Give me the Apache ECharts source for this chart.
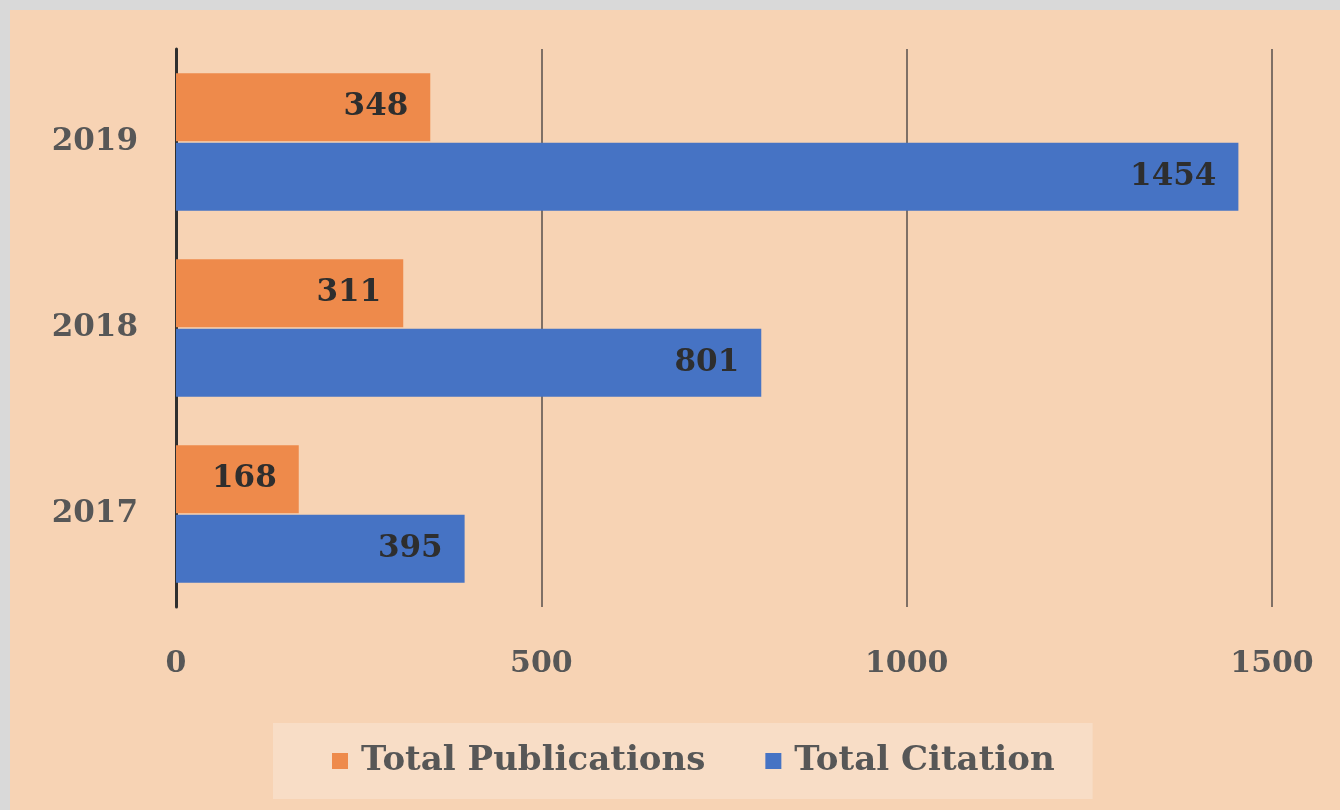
<!DOCTYPE html>
<html>
<head>
<meta charset="utf-8">
<script src="https://cdn.jsdelivr.net/npm/echarts@6/dist/echarts.min.js"></script>
<style>
  html, body { margin: 0; padding: 0; background: #d9d9d9; }
  #chart { position: absolute; left: 10px; top: 10px; width: 1330px; height: 800px; }
</style>
</head>
<body>
<div id="chart"></div>
<script>
// data
const years = ['2017', '2018', '2019'];
const publications = [168, 311, 348];
const citations = [395, 801, 1454];
const xTicks = [0, 500, 1000, 1500];

const serif = '"DejaVu Serif", "Liberation Serif", serif';

const chart = echarts.init(document.getElementById('chart'));

const barLabel = {
  show: true,
  position: 'insideRight',
  distance: 22,
  color: '#2e2e2e',
  fontFamily: serif,
  fontWeight: 'bold',
  fontSize: 31
};

const option = {
  backgroundColor: '#F7D3B4',
  animation: false,
  grid: { left: 166, top: 39, width: 1096, height: 558 },
  legend: {
    data: ['Total Publications', 'Total Citation'],
    left: 263,
    top: 713,
    padding: [21, 38, 21, 59],
    backgroundColor: '#F8DDC6',
    itemWidth: 16,
    itemHeight: 16,
    itemGap: 60,
    icon: 'rect',
    textStyle: { color: '#575757', fontFamily: serif, fontWeight: 'bold', fontSize: 34, padding: [0, 0, 0, 8] }
  },
  xAxis: {
    type: 'value',
    min: xTicks[0],
    max: xTicks[xTicks.length - 1],
    interval: 500,
    axisLine: { show: false },
    axisTick: { show: false },
    splitLine: { show: true, lineStyle: { color: '#7f7066', width: 2 } },
    axisLabel: { color: '#575757', fontFamily: serif, fontWeight: 'bold', fontSize: 30, margin: 42, formatter: v => String(v) }
  },
  yAxis: {
    type: 'category',
    data: years,
    axisLine: { show: true, lineStyle: { color: '#2f2f2f', width: 3 } },
    axisTick: { show: false },
    axisLabel: { color: '#575757', fontFamily: serif, fontWeight: 'bold', fontSize: 31, margin: 38 }
  },
  series: [
    {
      name: 'Total Publications',
      type: 'bar',
      data: publications,
      barCategoryGap: '26%',
      barGap: '2%',
      itemStyle: { color: '#EE8A4B' },
      label: barLabel
    },
    {
      name: 'Total Citation',
      type: 'bar',
      data: citations,
      itemStyle: { color: '#4673C4' },
      label: barLabel
    }
  ]
};

chart.setOption(option);
</script>
</body>
</html>
